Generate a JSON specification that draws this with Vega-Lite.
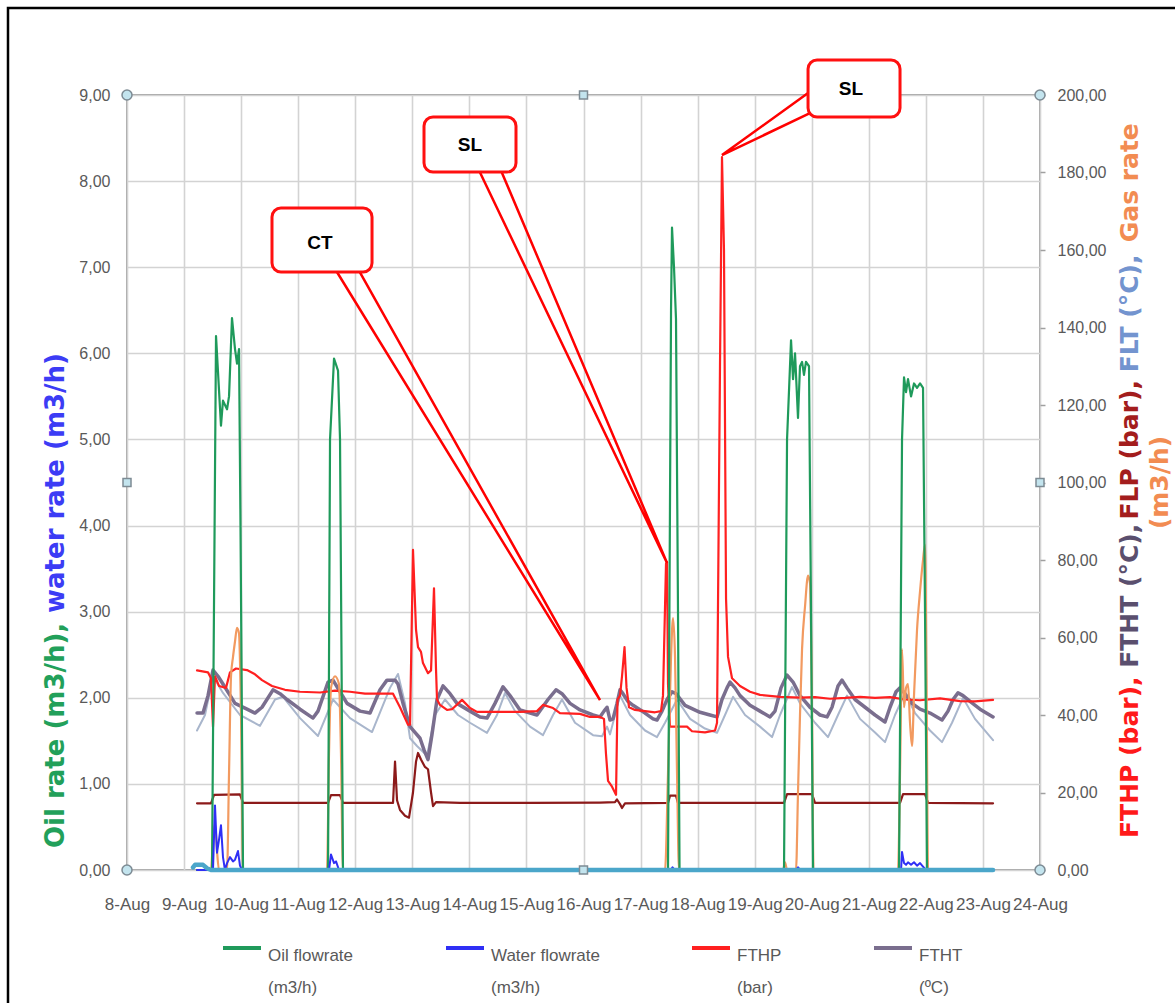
{
"$schema":"https://vega.github.io/schema/vega-lite/v6.json",
"width":913,"height":775,
"autosize":{"type":"none"},
"padding":{"left":127,"top":95,"right":135,"bottom":133},
"config":{"font":"Liberation Sans","view":{"stroke":"#a3a3a3","strokeWidth":2},"axis":{"gridColor":"#d3d3d3","gridWidth":1.6,"labelFont":"Liberation Sans","labelColor":"#595959"},"line":{"strokeJoin":"round","strokeCap":"round"},"style":{"guide-label":{"lineHeight":32}}},
"datasets":{
"oil":[{"d":9.227,"v":0},{"d":9.49,"v":0},{"d":9.56,"v":6.2},{"d":9.647,"v":5.16},{"d":9.682,"v":5.45},{"d":9.753,"v":5.35},{"d":9.788,"v":5.5},{"d":9.84,"v":6.41},{"d":9.893,"v":6.05},{"d":9.928,"v":5.88},{"d":9.963,"v":6.05},{"d":9.989,"v":4.0},{"d":10.033,"v":0},{"d":11.523,"v":0},{"d":11.558,"v":5.0},{"d":11.628,"v":5.94},{"d":11.698,"v":5.8},{"d":11.733,"v":5.0},{"d":11.785,"v":0},{"d":17.481,"v":0},{"d":17.534,"v":6.5},{"d":17.551,"v":7.46},{"d":17.586,"v":7.0},{"d":17.621,"v":6.4},{"d":17.656,"v":3.0},{"d":17.683,"v":0},{"d":19.514,"v":0},{"d":19.567,"v":5.0},{"d":19.637,"v":6.15},{"d":19.672,"v":5.7},{"d":19.707,"v":6.0},{"d":19.759,"v":5.25},{"d":19.794,"v":5.85},{"d":19.83,"v":5.9},{"d":19.864,"v":5.75},{"d":19.899,"v":5.9},{"d":19.952,"v":5.85},{"d":19.987,"v":3.0},{"d":20.022,"v":0},{"d":21.53,"v":0},{"d":21.582,"v":5.0},{"d":21.617,"v":5.72},{"d":21.652,"v":5.55},{"d":21.687,"v":5.7},{"d":21.74,"v":5.5},{"d":21.792,"v":5.65},{"d":21.845,"v":5.6},{"d":21.898,"v":5.65},{"d":21.95,"v":5.6},{"d":21.985,"v":3.0},{"d":22.02,"v":0},{"d":23.177,"v":0}],
"water":[{"d":9.227,"v":0},{"d":9.507,"v":0},{"d":9.542,"v":0.75},{"d":9.577,"v":0.2},{"d":9.612,"v":0.35},{"d":9.647,"v":0.52},{"d":9.682,"v":0.15},{"d":9.717,"v":0},{"d":9.753,"v":0.08},{"d":9.805,"v":0.15},{"d":9.858,"v":0.1},{"d":9.893,"v":0.12},{"d":9.945,"v":0.22},{"d":9.98,"v":0.05},{"d":10.015,"v":0},{"d":11.54,"v":0},{"d":11.575,"v":0.18},{"d":11.628,"v":0.08},{"d":11.663,"v":0.1},{"d":11.715,"v":0},{"d":17.53,"v":0},{"d":17.56,"v":0.03},{"d":17.6,"v":0},{"d":19.73,"v":0},{"d":19.76,"v":0.03},{"d":19.8,"v":0},{"d":21.565,"v":0},{"d":21.582,"v":0.21},{"d":21.617,"v":0.08},{"d":21.652,"v":0.06},{"d":21.687,"v":0.09},{"d":21.74,"v":0.06},{"d":21.792,"v":0.09},{"d":21.845,"v":0.05},{"d":21.898,"v":0.08},{"d":21.95,"v":0.04},{"d":22.003,"v":0},{"d":23.177,"v":0}],
"s8":[{"d":9.157,"v":0.03},{"d":9.192,"v":0.06},{"d":9.332,"v":0.06},{"d":9.402,"v":0.02},{"d":9.472,"v":0},{"d":23.177,"v":0}],
"fthp":[{"d":9.227,"v":51.5},{"d":9.42,"v":51},{"d":9.472,"v":49.5},{"d":9.507,"v":37},{"d":9.542,"v":50},{"d":9.612,"v":47.5},{"d":9.735,"v":47},{"d":9.805,"v":51},{"d":9.91,"v":52},{"d":10.103,"v":51.6},{"d":10.243,"v":50.5},{"d":10.366,"v":49},{"d":10.541,"v":47.5},{"d":10.769,"v":46.5},{"d":11.032,"v":46},{"d":11.382,"v":45.8},{"d":11.645,"v":46.3},{"d":11.908,"v":46},{"d":12.171,"v":45.5},{"d":12.434,"v":45.5},{"d":12.662,"v":45.5},{"d":12.784,"v":42},{"d":12.925,"v":37.5},{"d":12.96,"v":37.5},{"d":13.012,"v":82.6},{"d":13.065,"v":62},{"d":13.1,"v":57.5},{"d":13.152,"v":56.3},{"d":13.187,"v":53.4},{"d":13.275,"v":50.8},{"d":13.328,"v":51.5},{"d":13.38,"v":72.7},{"d":13.415,"v":52},{"d":13.433,"v":44},{"d":13.485,"v":42.6},{"d":13.608,"v":41.3},{"d":13.696,"v":41.5},{"d":13.871,"v":43.9},{"d":14.011,"v":41.8},{"d":14.134,"v":40.8},{"d":14.537,"v":40.8},{"d":14.887,"v":40.8},{"d":15.185,"v":41},{"d":15.29,"v":42.6},{"d":15.466,"v":41.8},{"d":15.588,"v":40.5},{"d":15.939,"v":40.3},{"d":16.114,"v":39.5},{"d":16.289,"v":39.5},{"d":16.359,"v":39},{"d":16.394,"v":30},{"d":16.43,"v":23},{"d":16.5,"v":21.5},{"d":16.57,"v":19.4},{"d":16.596,"v":44},{"d":16.64,"v":45},{"d":16.675,"v":50},{"d":16.719,"v":57.5},{"d":16.754,"v":47},{"d":16.798,"v":42},{"d":16.903,"v":41.3},{"d":17.078,"v":41},{"d":17.253,"v":40.7},{"d":17.358,"v":41},{"d":17.393,"v":45},{"d":17.446,"v":79},{"d":17.464,"v":79.5},{"d":17.481,"v":48},{"d":17.516,"v":37},{"d":17.814,"v":37},{"d":17.902,"v":35.8},{"d":18.129,"v":35.5},{"d":18.305,"v":36},{"d":18.34,"v":38},{"d":18.392,"v":130},{"d":18.427,"v":184},{"d":18.462,"v":160},{"d":18.498,"v":70},{"d":18.533,"v":55},{"d":18.603,"v":49.5},{"d":18.743,"v":47.5},{"d":18.918,"v":46},{"d":19.093,"v":45.2},{"d":19.444,"v":44.7},{"d":19.794,"v":44.5},{"d":20.057,"v":44.6},{"d":20.32,"v":44.2},{"d":20.583,"v":44.4},{"d":20.846,"v":44.7},{"d":21.109,"v":44.4},{"d":21.372,"v":44.6},{"d":21.635,"v":44},{"d":21.898,"v":43.8},{"d":22.248,"v":44.3},{"d":22.599,"v":43.6},{"d":22.861,"v":43.5},{"d":23.177,"v":43.9}],
"ftht":[{"d":9.227,"v":40.5},{"d":9.332,"v":40.5},{"d":9.42,"v":45},{"d":9.507,"v":51.6},{"d":9.595,"v":50},{"d":9.682,"v":48},{"d":9.893,"v":43},{"d":10.103,"v":41.5},{"d":10.243,"v":40.5},{"d":10.366,"v":42},{"d":10.559,"v":46.5},{"d":10.681,"v":45.5},{"d":10.804,"v":44},{"d":11.032,"v":41.5},{"d":11.26,"v":39.2},{"d":11.347,"v":41},{"d":11.523,"v":48.5},{"d":11.61,"v":49},{"d":11.733,"v":46},{"d":11.856,"v":43},{"d":12.083,"v":41},{"d":12.259,"v":40.5},{"d":12.434,"v":46.5},{"d":12.556,"v":49},{"d":12.697,"v":49},{"d":12.749,"v":48},{"d":12.837,"v":43},{"d":12.96,"v":37},{"d":13.047,"v":35.5},{"d":13.135,"v":34},{"d":13.205,"v":31},{"d":13.275,"v":28.5},{"d":13.345,"v":35},{"d":13.433,"v":44},{"d":13.538,"v":47.5},{"d":13.661,"v":45.5},{"d":13.783,"v":43},{"d":14.011,"v":41},{"d":14.186,"v":39.5},{"d":14.309,"v":39.2},{"d":14.449,"v":43},{"d":14.589,"v":47.3},{"d":14.712,"v":45},{"d":14.887,"v":41.3},{"d":15.185,"v":40},{"d":15.378,"v":44},{"d":15.518,"v":46.5},{"d":15.623,"v":45.5},{"d":15.764,"v":43},{"d":15.939,"v":41.3},{"d":16.167,"v":40},{"d":16.289,"v":39.5},{"d":16.359,"v":41},{"d":16.412,"v":42},{"d":16.465,"v":38.7},{"d":16.517,"v":39},{"d":16.587,"v":43},{"d":16.64,"v":46.5},{"d":16.692,"v":45.5},{"d":16.78,"v":43.5},{"d":16.868,"v":42.5},{"d":17.078,"v":40.5},{"d":17.218,"v":39},{"d":17.288,"v":38.7},{"d":17.376,"v":41},{"d":17.464,"v":44},{"d":17.551,"v":46},{"d":17.621,"v":45.5},{"d":17.779,"v":42.5},{"d":18.042,"v":40.7},{"d":18.217,"v":40},{"d":18.34,"v":39.5},{"d":18.427,"v":44},{"d":18.515,"v":47},{"d":18.568,"v":48.5},{"d":18.655,"v":47},{"d":18.743,"v":45},{"d":18.918,"v":42.5},{"d":19.093,"v":41},{"d":19.269,"v":39.5},{"d":19.356,"v":41},{"d":19.461,"v":47},{"d":19.567,"v":50.3},{"d":19.672,"v":48.5},{"d":19.794,"v":45},{"d":19.97,"v":42},{"d":20.145,"v":40},{"d":20.268,"v":39.5},{"d":20.355,"v":42},{"d":20.46,"v":47.5},{"d":20.531,"v":49},{"d":20.618,"v":47},{"d":20.758,"v":44},{"d":20.934,"v":42},{"d":21.109,"v":40},{"d":21.284,"v":38.2},{"d":21.372,"v":42},{"d":21.477,"v":46},{"d":21.547,"v":47},{"d":21.635,"v":45.5},{"d":21.757,"v":43},{"d":21.898,"v":41.5},{"d":22.073,"v":40.5},{"d":22.283,"v":38.7},{"d":22.388,"v":41},{"d":22.476,"v":44},{"d":22.563,"v":45.7},{"d":22.651,"v":45},{"d":22.774,"v":43.5},{"d":22.949,"v":41.5},{"d":23.177,"v":39.5}],
"flt":[{"d":9.227,"v":36},{"d":9.367,"v":40},{"d":9.507,"v":50},{"d":9.682,"v":45.7},{"d":9.98,"v":40},{"d":10.331,"v":37.2},{"d":10.594,"v":44},{"d":10.734,"v":44.7},{"d":11.032,"v":39.2},{"d":11.347,"v":34.6},{"d":11.61,"v":44},{"d":11.908,"v":39.2},{"d":12.294,"v":35.6},{"d":12.609,"v":47},{"d":12.749,"v":50.6},{"d":12.872,"v":43},{"d":12.96,"v":34},{"d":13.082,"v":32},{"d":13.258,"v":29.5},{"d":13.398,"v":40},{"d":13.573,"v":44},{"d":13.801,"v":40},{"d":14.011,"v":38},{"d":14.309,"v":35.4},{"d":14.484,"v":40},{"d":14.625,"v":45.7},{"d":14.8,"v":41},{"d":15.063,"v":37},{"d":15.29,"v":34.8},{"d":15.466,"v":40},{"d":15.623,"v":44},{"d":15.851,"v":38},{"d":16.167,"v":34.8},{"d":16.324,"v":34.5},{"d":16.412,"v":37},{"d":16.465,"v":35},{"d":16.552,"v":40},{"d":16.64,"v":45},{"d":16.815,"v":40},{"d":17.078,"v":36},{"d":17.288,"v":34.3},{"d":17.429,"v":38},{"d":17.639,"v":44},{"d":17.867,"v":39},{"d":18.129,"v":36.5},{"d":18.34,"v":35.4},{"d":18.48,"v":40},{"d":18.62,"v":44.7},{"d":18.831,"v":40},{"d":19.093,"v":37},{"d":19.304,"v":34.3},{"d":19.444,"v":40},{"d":19.654,"v":47.2},{"d":19.794,"v":43},{"d":20.057,"v":38},{"d":20.285,"v":34.3},{"d":20.46,"v":40},{"d":20.618,"v":45},{"d":20.846,"v":39},{"d":21.109,"v":35.5},{"d":21.284,"v":33},{"d":21.459,"v":40},{"d":21.635,"v":45.7},{"d":21.81,"v":40.5},{"d":22.073,"v":36},{"d":22.283,"v":33},{"d":22.458,"v":38},{"d":22.651,"v":44.4},{"d":22.861,"v":39},{"d":23.177,"v":33.5}],
"flp":[{"d":9.227,"v":17.2},{"d":9.472,"v":17.2},{"d":9.525,"v":19.4},{"d":9.98,"v":19.5},{"d":10.033,"v":17.3},{"d":11.523,"v":17.3},{"d":11.575,"v":19.3},{"d":11.733,"v":19.3},{"d":11.785,"v":17.3},{"d":12.662,"v":17.3},{"d":12.697,"v":28},{"d":12.732,"v":18},{"d":12.784,"v":15.5},{"d":12.872,"v":14},{"d":12.942,"v":13.5},{"d":13.012,"v":20},{"d":13.065,"v":28},{"d":13.1,"v":30.2},{"d":13.152,"v":28.5},{"d":13.222,"v":26.6},{"d":13.275,"v":26},{"d":13.328,"v":20},{"d":13.363,"v":16.5},{"d":13.415,"v":17.5},{"d":13.836,"v":17.3},{"d":15.063,"v":17.3},{"d":16.289,"v":17.4},{"d":16.552,"v":17.5},{"d":16.587,"v":18.2},{"d":16.64,"v":17},{"d":16.675,"v":16},{"d":16.727,"v":17.2},{"d":17.481,"v":17.3},{"d":17.516,"v":19.2},{"d":17.621,"v":19.2},{"d":17.656,"v":17.3},{"d":19.514,"v":17.3},{"d":19.567,"v":19.6},{"d":20.005,"v":19.6},{"d":20.057,"v":17.3},{"d":21.547,"v":17.3},{"d":21.6,"v":19.6},{"d":21.985,"v":19.6},{"d":22.038,"v":17.3},{"d":23.177,"v":17.2}],
"gas":[{"d":9.227,"v":0},{"d":9.472,"v":0},{"d":9.507,"v":8},{"d":9.542,"v":12},{"d":9.577,"v":5},{"d":9.612,"v":0},{"d":9.753,"v":0},{"d":9.788,"v":25},{"d":9.823,"v":50},{"d":9.858,"v":55},{"d":9.893,"v":59},{"d":9.928,"v":62.5},{"d":9.963,"v":61},{"d":9.998,"v":40},{"d":10.033,"v":0},{"d":11.505,"v":0},{"d":11.54,"v":30},{"d":11.575,"v":47},{"d":11.645,"v":50},{"d":11.715,"v":48},{"d":11.75,"v":30},{"d":11.785,"v":0},{"d":17.429,"v":0},{"d":17.481,"v":25},{"d":17.534,"v":55},{"d":17.569,"v":65},{"d":17.604,"v":55},{"d":17.639,"v":25},{"d":17.674,"v":0},{"d":19.496,"v":0},{"d":19.532,"v":2},{"d":19.567,"v":0},{"d":19.724,"v":0},{"d":19.759,"v":20},{"d":19.794,"v":40},{"d":19.83,"v":57},{"d":19.882,"v":68},{"d":19.935,"v":76},{"d":19.97,"v":74},{"d":20.005,"v":40},{"d":20.031,"v":0},{"d":21.512,"v":0},{"d":21.547,"v":25},{"d":21.582,"v":57},{"d":21.617,"v":42},{"d":21.652,"v":47},{"d":21.687,"v":48},{"d":21.722,"v":38},{"d":21.757,"v":32},{"d":21.792,"v":45},{"d":21.845,"v":62},{"d":21.898,"v":72},{"d":21.95,"v":80},{"d":21.985,"v":84},{"d":22.011,"v":50},{"d":22.038,"v":0},{"d":23.177,"v":0}],
"wedges":[{"id":"CT","o":1,"d":11.628,"v":7.0},{"id":"CT","o":2,"d":16.289,"v":1.974},{"id":"CT","o":3,"d":12.031,"v":7.0},{"id":"SL1","o":1,"d":14.151,"v":8.15},{"id":"SL1","o":2,"d":17.464,"v":3.565},{"id":"SL1","o":3,"d":14.537,"v":8.15},{"id":"SL2","o":1,"d":19.96,"v":9.035},{"id":"SL2","o":2,"d":18.427,"v":8.303},{"id":"SL2","o":3,"d":20.005,"v":8.8}],
"boxes":[{"d":10.541,"d2":12.294,"v":7.688,"v2":6.944},{"d":13.205,"d2":14.817,"v":8.745,"v2":8.106},{"d":19.935,"d2":21.547,"v":9.406,"v2":8.745}],
"boxtext":[{"d":11.382,"v":7.281,"t":"CT"},{"d":14.011,"v":8.419,"t":"SL"},{"d":20.688,"v":9.07,"t":"SL"}],
"corners":[{"d":8,"v":9},{"d":24,"v":9},{"d":8,"v":0},{"d":24,"v":0}],
"mids":[{"d":16,"v":9},{"d":8,"v":4.5},{"d":24,"v":4.5},{"d":16,"v":0}],
"frame":[{"d":5.9145,"d2":27.5,"v":10.01,"v2":-2.5}]
},
"layer":[
{
"encoding":{
"x":{"field":"d","type":"quantitative","scale":{"domain":[8,24],"nice":false,"zero":false},"axis":{"values":[8,9,10,11,12,13,14,15,16,17,18,19,20,21,22,23,24],"labelExpr":"datum.value + '-Aug'","title":null,"grid":true,"ticks":false,"domain":false,"labelFlush":false,"labelOverlap":false,"labelFontSize":17,"labelPadding":26}},
"y":{"field":"v","type":"quantitative","scale":{"domain":[0,200],"nice":false,"zero":false},"axis":{"orient":"right","values":[0,20,40,60,80,100,120,140,160,180,200],"labelExpr":"replace(format(datum.value, '.2f'), '.', ',')","title":null,"grid":false,"ticks":true,"tickSize":5,"tickColor":"#a0a0a0","tickWidth":1.5,"domain":false,"labelFontSize":16,"labelPadding":12}}
},
"layer":[
{"data":{"name":"flt"},"mark":{"type":"line","strokeWidth":2},"encoding":{"color":{"datum":"FLT (°C)","type":"nominal","scale":{"domain":["Oil flowrate (m3/h)","Water flowrate (m3/h)","FTHP (bar)","FTHT (ºC)","FLP (bar)","FLT (°C)","Gas rate (m3/h)","Series 8"],"range":["#1f9a5b","#2f2ff5","#ff2020","#7a6e8e","#8c1a1a","#a9b6cc","#f29a60","#4ba6ca"]},"legend":{"orient":"none","legendX":94,"legendY":832,"direction":"horizontal","columns":4,"title":null,"values":["Oil flowrate (m3/h)","Water flowrate (m3/h)","FTHP (bar)","FTHT (ºC)"],"symbolType":"stroke","symbolSize":1444,"symbolStrokeWidth":4,"labelFontSize":17,"labelColor":"#595959","labelOffset":5,"columnPadding":90,"labelBaseline":"top","labelLimit":300,"padding":0,"labelExpr":"[slice(datum.label, 0, lastindexof(datum.label, ' ')), slice(datum.label, lastindexof(datum.label, ' ') + 1)]"}}}},
{"data":{"name":"ftht"},"mark":{"type":"line","strokeWidth":3.5},"encoding":{"color":{"datum":"FTHT (ºC)","type":"nominal","scale":{"domain":["Oil flowrate (m3/h)","Water flowrate (m3/h)","FTHP (bar)","FTHT (ºC)","FLP (bar)","FLT (°C)","Gas rate (m3/h)","Series 8"],"range":["#1f9a5b","#2f2ff5","#ff2020","#7a6e8e","#8c1a1a","#a9b6cc","#f29a60","#4ba6ca"]},"legend":{"orient":"none","legendX":94,"legendY":832,"direction":"horizontal","columns":4,"title":null,"values":["Oil flowrate (m3/h)","Water flowrate (m3/h)","FTHP (bar)","FTHT (ºC)"],"symbolType":"stroke","symbolSize":1444,"symbolStrokeWidth":4,"labelFontSize":17,"labelColor":"#595959","labelOffset":5,"columnPadding":90,"labelBaseline":"top","labelLimit":300,"padding":0,"labelExpr":"[slice(datum.label, 0, lastindexof(datum.label, ' ')), slice(datum.label, lastindexof(datum.label, ' ') + 1)]"}}}},
{"data":{"name":"flp"},"mark":{"type":"line","strokeWidth":2.2},"encoding":{"color":{"datum":"FLP (bar)","type":"nominal","scale":{"domain":["Oil flowrate (m3/h)","Water flowrate (m3/h)","FTHP (bar)","FTHT (ºC)","FLP (bar)","FLT (°C)","Gas rate (m3/h)","Series 8"],"range":["#1f9a5b","#2f2ff5","#ff2020","#7a6e8e","#8c1a1a","#a9b6cc","#f29a60","#4ba6ca"]},"legend":{"orient":"none","legendX":94,"legendY":832,"direction":"horizontal","columns":4,"title":null,"values":["Oil flowrate (m3/h)","Water flowrate (m3/h)","FTHP (bar)","FTHT (ºC)"],"symbolType":"stroke","symbolSize":1444,"symbolStrokeWidth":4,"labelFontSize":17,"labelColor":"#595959","labelOffset":5,"columnPadding":90,"labelBaseline":"top","labelLimit":300,"padding":0,"labelExpr":"[slice(datum.label, 0, lastindexof(datum.label, ' ')), slice(datum.label, lastindexof(datum.label, ' ') + 1)]"}}}},
{"data":{"name":"fthp"},"mark":{"type":"line","strokeWidth":2.2},"encoding":{"color":{"datum":"FTHP (bar)","type":"nominal","scale":{"domain":["Oil flowrate (m3/h)","Water flowrate (m3/h)","FTHP (bar)","FTHT (ºC)","FLP (bar)","FLT (°C)","Gas rate (m3/h)","Series 8"],"range":["#1f9a5b","#2f2ff5","#ff2020","#7a6e8e","#8c1a1a","#a9b6cc","#f29a60","#4ba6ca"]},"legend":{"orient":"none","legendX":94,"legendY":832,"direction":"horizontal","columns":4,"title":null,"values":["Oil flowrate (m3/h)","Water flowrate (m3/h)","FTHP (bar)","FTHT (ºC)"],"symbolType":"stroke","symbolSize":1444,"symbolStrokeWidth":4,"labelFontSize":17,"labelColor":"#595959","labelOffset":5,"columnPadding":90,"labelBaseline":"top","labelLimit":300,"padding":0,"labelExpr":"[slice(datum.label, 0, lastindexof(datum.label, ' ')), slice(datum.label, lastindexof(datum.label, ' ') + 1)]"}}}},
{"data":{"name":"gas"},"mark":{"type":"line","strokeWidth":2.2,"interpolate":"monotone"},"encoding":{"color":{"datum":"Gas rate (m3/h)","type":"nominal","scale":{"domain":["Oil flowrate (m3/h)","Water flowrate (m3/h)","FTHP (bar)","FTHT (ºC)","FLP (bar)","FLT (°C)","Gas rate (m3/h)","Series 8"],"range":["#1f9a5b","#2f2ff5","#ff2020","#7a6e8e","#8c1a1a","#a9b6cc","#f29a60","#4ba6ca"]},"legend":{"orient":"none","legendX":94,"legendY":832,"direction":"horizontal","columns":4,"title":null,"values":["Oil flowrate (m3/h)","Water flowrate (m3/h)","FTHP (bar)","FTHT (ºC)"],"symbolType":"stroke","symbolSize":1444,"symbolStrokeWidth":4,"labelFontSize":17,"labelColor":"#595959","labelOffset":5,"columnPadding":90,"labelBaseline":"top","labelLimit":300,"padding":0,"labelExpr":"[slice(datum.label, 0, lastindexof(datum.label, ' ')), slice(datum.label, lastindexof(datum.label, ' ') + 1)]"}}}}
]
},
{
"encoding":{
"x":{"field":"d","type":"quantitative","scale":{"domain":[8,24],"nice":false,"zero":false},"axis":{"values":[8,9,10,11,12,13,14,15,16,17,18,19,20,21,22,23,24],"labelExpr":"datum.value + '-Aug'","title":null,"grid":true,"ticks":false,"domain":false,"labelFlush":false,"labelOverlap":false,"labelFontSize":17,"labelPadding":26}},
"y":{"field":"v","type":"quantitative","scale":{"domain":[0,9],"nice":false,"zero":false},"axis":{"orient":"left","values":[0,1,2,3,4,5,6,7,8,9],"labelExpr":"replace(format(datum.value, '.2f'), '.', ',')","title":null,"grid":true,"ticks":false,"domain":false,"labelFontSize":16,"labelPadding":17}}
},
"layer":[
{"data":{"name":"oil"},"mark":{"type":"line","strokeWidth":2.2},"encoding":{"color":{"datum":"Oil flowrate (m3/h)","type":"nominal","scale":{"domain":["Oil flowrate (m3/h)","Water flowrate (m3/h)","FTHP (bar)","FTHT (ºC)","FLP (bar)","FLT (°C)","Gas rate (m3/h)","Series 8"],"range":["#1f9a5b","#2f2ff5","#ff2020","#7a6e8e","#8c1a1a","#a9b6cc","#f29a60","#4ba6ca"]},"legend":{"orient":"none","legendX":94,"legendY":832,"direction":"horizontal","columns":4,"title":null,"values":["Oil flowrate (m3/h)","Water flowrate (m3/h)","FTHP (bar)","FTHT (ºC)"],"symbolType":"stroke","symbolSize":1444,"symbolStrokeWidth":4,"labelFontSize":17,"labelColor":"#595959","labelOffset":5,"columnPadding":90,"labelBaseline":"top","labelLimit":300,"padding":0,"labelExpr":"[slice(datum.label, 0, lastindexof(datum.label, ' ')), slice(datum.label, lastindexof(datum.label, ' ') + 1)]"}}}},
{"data":{"name":"water"},"mark":{"type":"line","strokeWidth":2},"encoding":{"color":{"datum":"Water flowrate (m3/h)","type":"nominal","scale":{"domain":["Oil flowrate (m3/h)","Water flowrate (m3/h)","FTHP (bar)","FTHT (ºC)","FLP (bar)","FLT (°C)","Gas rate (m3/h)","Series 8"],"range":["#1f9a5b","#2f2ff5","#ff2020","#7a6e8e","#8c1a1a","#a9b6cc","#f29a60","#4ba6ca"]},"legend":{"orient":"none","legendX":94,"legendY":832,"direction":"horizontal","columns":4,"title":null,"values":["Oil flowrate (m3/h)","Water flowrate (m3/h)","FTHP (bar)","FTHT (ºC)"],"symbolType":"stroke","symbolSize":1444,"symbolStrokeWidth":4,"labelFontSize":17,"labelColor":"#595959","labelOffset":5,"columnPadding":90,"labelBaseline":"top","labelLimit":300,"padding":0,"labelExpr":"[slice(datum.label, 0, lastindexof(datum.label, ' ')), slice(datum.label, lastindexof(datum.label, ' ') + 1)]"}}}},
{"data":{"name":"s8"},"mark":{"type":"line","strokeWidth":4.5},"encoding":{"color":{"datum":"Series 8","type":"nominal","scale":{"domain":["Oil flowrate (m3/h)","Water flowrate (m3/h)","FTHP (bar)","FTHT (ºC)","FLP (bar)","FLT (°C)","Gas rate (m3/h)","Series 8"],"range":["#1f9a5b","#2f2ff5","#ff2020","#7a6e8e","#8c1a1a","#a9b6cc","#f29a60","#4ba6ca"]},"legend":{"orient":"none","legendX":94,"legendY":832,"direction":"horizontal","columns":4,"title":null,"values":["Oil flowrate (m3/h)","Water flowrate (m3/h)","FTHP (bar)","FTHT (ºC)"],"symbolType":"stroke","symbolSize":1444,"symbolStrokeWidth":4,"labelFontSize":17,"labelColor":"#595959","labelOffset":5,"columnPadding":90,"labelBaseline":"top","labelLimit":300,"padding":0,"labelExpr":"[slice(datum.label, 0, lastindexof(datum.label, ' ')), slice(datum.label, lastindexof(datum.label, ' ') + 1)]"}}}},
{"data":{"name":"frame"},"mark":{"type":"rect","fillOpacity":0,"stroke":"#000000","strokeWidth":2.5},"encoding":{"x2":{"field":"d2"},"y2":{"field":"v2"}}},
{"data":{"name":"wedges"},"mark":{"type":"line","color":"#ff0000","strokeWidth":2.5,"strokeJoin":"miter"},"encoding":{"detail":{"field":"id"},"order":{"field":"o"}}},
{"data":{"name":"boxes"},"mark":{"type":"rect","fill":"#9a9a9a","opacity":0.4,"cornerRadius":9,"xOffset":3,"yOffset":3},"encoding":{"x2":{"field":"d2"},"y2":{"field":"v2"}}},
{"data":{"name":"boxes"},"mark":{"type":"rect","fill":"#ffffff","stroke":"#ff1010","strokeWidth":3,"cornerRadius":9},"encoding":{"x2":{"field":"d2"},"y2":{"field":"v2"}}},
{"data":{"name":"boxtext"},"mark":{"type":"text","font":"Liberation Sans","fontWeight":"bold","fontSize":19,"color":"#000000","baseline":"middle","align":"center"},"encoding":{"text":{"field":"t"}}},
{"data":{"values":[{"d":6.756,"v":0.255,"t":"Oil rate (m3/h),"}]},"mark":{"type":"text","angle":-90,"align":"left","baseline":"middle","font":"DejaVu Sans","fontWeight":"bold","fontSize":26,"color":"#22a05a"},"encoding":{"text":{"field":"t"}}},
{"data":{"values":[{"d":6.756,"v":2.985,"t":"water rate (m3/h)"}]},"mark":{"type":"text","angle":-90,"align":"left","baseline":"middle","font":"DejaVu Sans","fontWeight":"bold","fontSize":26,"color":"#3c3cf5"},"encoding":{"text":{"field":"t"}}},
{"data":{"values":[{"d":25.578,"v":0.372,"t":"FTHP (bar),"}]},"mark":{"type":"text","angle":-90,"align":"left","baseline":"middle","font":"DejaVu Sans","fontWeight":"bold","fontSize":25,"color":"#ff1a1a"},"encoding":{"text":{"field":"t"}}},
{"data":{"values":[{"d":25.578,"v":2.348,"t":"FTHT (°C),"}]},"mark":{"type":"text","angle":-90,"align":"left","baseline":"middle","font":"DejaVu Sans","fontWeight":"bold","fontSize":25,"color":"#5a4f6e"},"encoding":{"text":{"field":"t"}}},
{"data":{"values":[{"d":25.578,"v":4.07,"t":"FLP (bar),"}]},"mark":{"type":"text","angle":-90,"align":"left","baseline":"middle","font":"DejaVu Sans","fontWeight":"bold","fontSize":25,"color":"#a31d1d"},"encoding":{"text":{"field":"t"}}},
{"data":{"values":[{"d":25.578,"v":5.78,"t":"FLT (°C),"}]},"mark":{"type":"text","angle":-90,"align":"left","baseline":"middle","font":"DejaVu Sans","fontWeight":"bold","fontSize":25,"color":"#7394cf"},"encoding":{"text":{"field":"t"}}},
{"data":{"values":[{"d":25.578,"v":7.29,"t":"Gas rate"}]},"mark":{"type":"text","angle":-90,"align":"left","baseline":"middle","font":"DejaVu Sans","fontWeight":"bold","fontSize":25,"color":"#f28c52"},"encoding":{"text":{"field":"t"}}},
{"data":{"values":[{"d":26.103,"v":4.5,"t":"(m3/h)"}]},"mark":{"type":"text","angle":-90,"align":"center","baseline":"middle","font":"DejaVu Sans","fontWeight":"bold","fontSize":25,"color":"#f28c52"},"encoding":{"text":{"field":"t"}}},
{"data":{"name":"corners"},"mark":{"type":"point","shape":"circle","filled":true,"size":100,"fill":"#c3e4ee","stroke":"#7d8b94","strokeWidth":1.5,"opacity":1}},
{"data":{"name":"mids"},"mark":{"type":"point","shape":"square","filled":true,"size":64,"fill":"#c3e4ee","stroke":"#7d8b94","strokeWidth":1.5,"opacity":1}}
]
}
],
"resolve":{"scale":{"y":"independent"}}
}
